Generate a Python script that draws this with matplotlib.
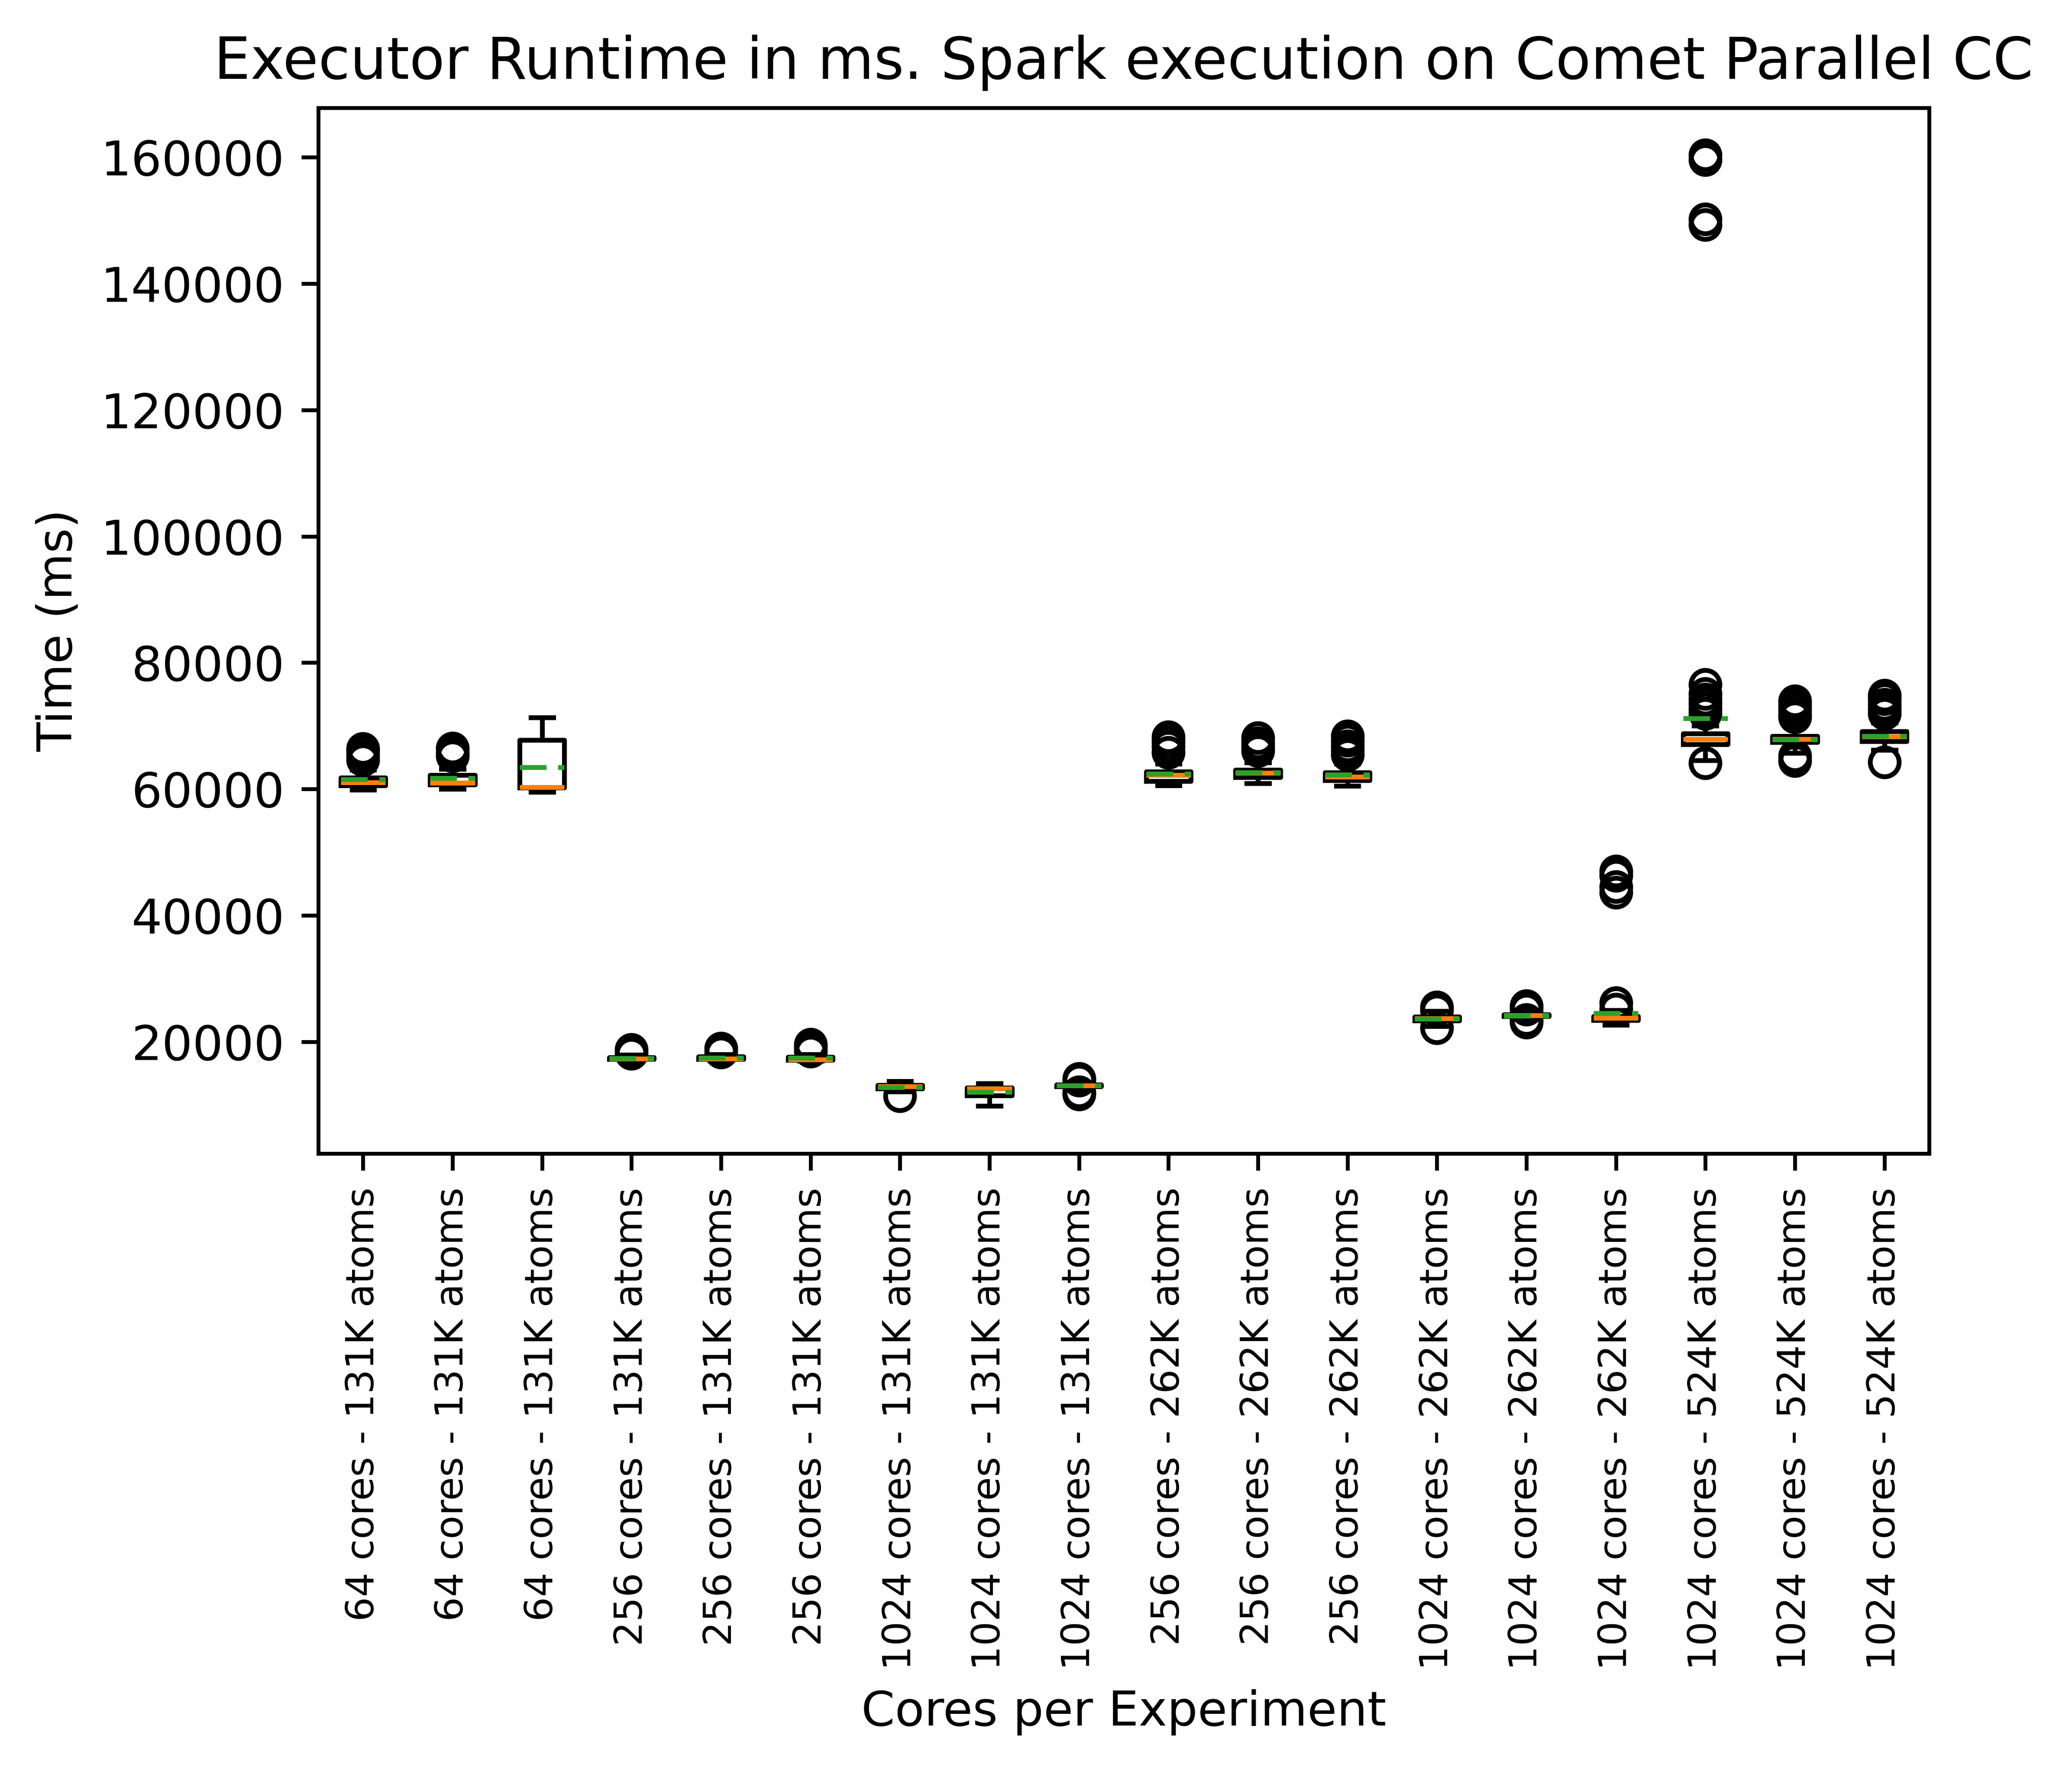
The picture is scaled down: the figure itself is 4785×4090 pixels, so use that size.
import matplotlib
matplotlib.use("Agg")
import matplotlib.pyplot as plt

# Etiquetas de cada experimento
labels = (["64 cores - 131K atoms"] * 3 + ["256 cores - 131K atoms"] * 3
          + ["1024 cores - 131K atoms"] * 3 + ["256 cores - 262K atoms"] * 3
          + ["1024 cores - 262K atoms"] * 3 + ["1024 cores - 524K atoms"] * 3)

# Estadisticos (ms)
medians = [61016, 60989, 60300, 17321, 17341, 17170, 12924, 12559, 13059,
           62188, 62544, 61968, 23679, 24139, 23734, 67875, 67931, 68300]
q1s = [60577, 60687, 60200, 17273, 17273, 17102, 12592, 11483, 12922,
       61229, 61845, 61386, 23357, 24002, 23426, 67053, 67396, 67530]
q3s = [61811, 62215, 67745, 17547, 17650, 17582, 13127, 12751, 13196,
       62756, 63031, 62599, 23933, 24276, 24043, 68814, 68403, 69107]
whis_lo = [59892, 60050, 59522, 17050, 17050, 16950, 12100, 9825, 12600,
           60591, 60886, 60488, 22450, 23700, 22672, 64550, 65712, 66200]
whis_hi = [63000, 63200, 71349, 17900, 18000, 18000, 13777, 13436, 13500,
           64000, 64200, 64000, 24830, 24600, 25016, 70000, 70500, 70500]
means = [61516, 61715, 63414, 17362, 17458, 17458, 12801, 12031, 13050,
         62414, 62600, 62255, 23622, 24104, 24515, 71178, 67822, 68370]
fliers = [
    [66400, 66000, 65200, 64600],
    [66450, 65800, 65250],
    [],
    [18750, 18150],
    [18950, 18350],
    [19600, 19100, 18500],
    [11400],
    [],
    [14150, 13850, 12000, 11700],
    [68250, 67500, 66700, 65800],
    [68100, 67300, 66600, 66050],
    [68350, 67700, 66800, 66100, 65450],
    [25440, 25000, 22150],
    [25670, 25100, 23450, 23060],
    [47020, 46340, 44510, 43620, 26130, 25100],
    [160350, 159650, 150250, 149350, 76550, 75100, 74200, 73500, 72800, 71950, 64150],
    [73900, 73300, 72600, 71900, 71400, 65200, 64500],
    [74800, 74300, 73400, 72700, 71950, 64300],
]

stats = []
for i in range(len(labels)):
    stats.append({
        "label": labels[i],
        "med": medians[i],
        "q1": q1s[i],
        "q3": q3s[i],
        "whislo": whis_lo[i],
        "whishi": whis_hi[i],
        "mean": means[i],
        "fliers": fliers[i],
    })

fig = plt.figure(figsize=(4785 / 800, 4090 / 800), dpi=800)
ax = fig.add_axes([735 / 4785, 1 - 2664 / 4090, 3720 / 4785, 2415.5 / 4090])

ax.bxp(stats, showmeans=True, meanline=True,
       meanprops=dict(linestyle=(0, (5.55, 2.4)), color="#2ca02c", linewidth=1.0))

ax.set_xlim(0.5, len(labels) + 0.5)
ax.tick_params(axis="x", labelsize=8, labelrotation=90)
ax.set_title("Executor Runtime in ms. Spark execution on Comet Parallel CC")
ax.set_xlabel("Cores per Experiment")
ax.set_ylabel("Time (ms)")

fig.savefig("out.png", dpi=800)
